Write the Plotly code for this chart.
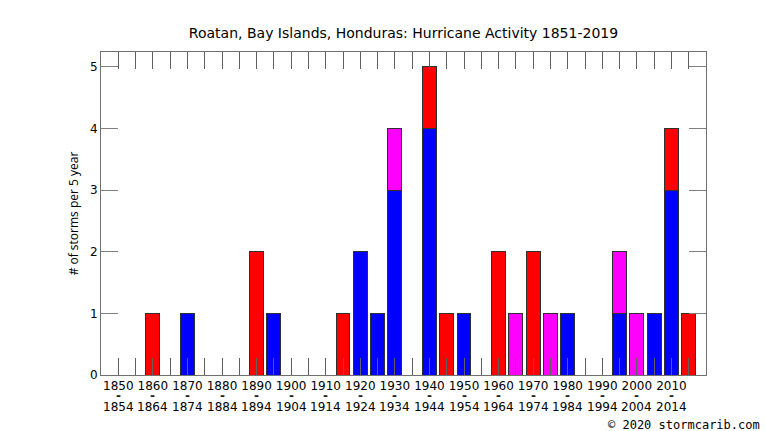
import plotly.graph_objects as go

# 5-year bins, labelled by their first year
years = list(range(1850, 2020, 5))

# storms per bin, stacked bottom to top: blue, magenta, red
blue = [0, 0, 0, 0, 1, 0, 0, 0, 0, 1, 0, 0, 0, 0, 2, 1, 3, 0,
        4, 0, 1, 0, 0, 0, 0, 0, 1, 0, 0, 1, 0, 1, 3, 0]
magenta = [0, 0, 0, 0, 0, 0, 0, 0, 0, 0, 0, 0, 0, 0, 0, 0, 1, 0,
           0, 0, 0, 0, 0, 1, 0, 1, 0, 0, 0, 1, 1, 0, 0, 0]
red = [0, 0, 1, 0, 0, 0, 0, 0, 2, 0, 0, 0, 0, 1, 0, 0, 0, 0,
       1, 1, 0, 0, 2, 0, 2, 0, 0, 0, 0, 0, 0, 0, 1, 1]

label_years = [y for y in years if y % 10 == 0]
tick_text = [str(y) if y % 10 == 0 else "" for y in years]

fig = go.Figure()
for vals, col in [(blue, "#0000ff"), (magenta, "#ff00ff"), (red, "#ff0000")]:
    fig.add_trace(go.Bar(x=years, y=vals, width=4, marker_color=col,
                         marker_line=dict(color="#303030", width=1),
                         showlegend=False))

fig.update_layout(
    width=766, height=431,
    barmode="stack",
    plot_bgcolor="white", paper_bgcolor="white",
    margin=dict(l=101, r=60, t=52, b=56),
    font=dict(family="DejaVu Sans", size=12, color="black"),
    title=dict(text="Roatan, Bay Islands, Honduras: Hurricane Activity 1851-2019",
               x=0.5, xref="paper", xanchor="center",
               y=1 - 33 / 431, yanchor="middle",
               font=dict(family="DejaVu Sans", size=14, color="black")),
    xaxis=dict(range=[1845, 2020], tickvals=years, ticktext=tick_text,
               ticks="inside", ticklen=17, tickcolor="#606060", tickwidth=1,
               showline=True, linecolor="#707070", mirror="ticks",
               showgrid=False, zeroline=False,
               tickfont=dict(family="DejaVu Sans", size=12)),
    yaxis=dict(range=[0, 5.24], tickvals=[0, 1, 2, 3, 4, 5],
               ticks="inside", ticklen=17, tickcolor="#808080", tickwidth=1,
               showline=True, linecolor="#707070", mirror="ticks",
               showgrid=False, zeroline=False,
               title=dict(text="# of storms per 5 year", standoff=8,
                          font=dict(family="Open Sans", size=12)),
               tickfont=dict(family="DejaVu Sans", size=12)),
)

# second and third line of each bin label ("-" and the end year)
for y in label_years:
    fig.add_annotation(text="<b>-</b>", x=y, xref="x", yref="paper", y=(375 - 396) / 323,
                       yanchor="middle", showarrow=False,
                       font=dict(family="DejaVu Sans", size=12, color="#222222"))
    fig.add_annotation(text=str(y + 4), x=y, xref="x", yref="paper", y=(375 - 407) / 323,
                       yanchor="middle", showarrow=False,
                       font=dict(family="DejaVu Sans", size=12))

fig.add_annotation(text="© 2020 stormcarib.com", xref="paper", yref="paper",
                   x=(762 - 101) / 605, y=(375 - 425) / 323,
                   xanchor="right", yanchor="middle", showarrow=False,
                   font=dict(family="DejaVu Sans Mono", size=12, color="black"))

fig.write_html("out.html", config={"displayModeBar": False},
               post_script="document.body.style.margin='0';")
